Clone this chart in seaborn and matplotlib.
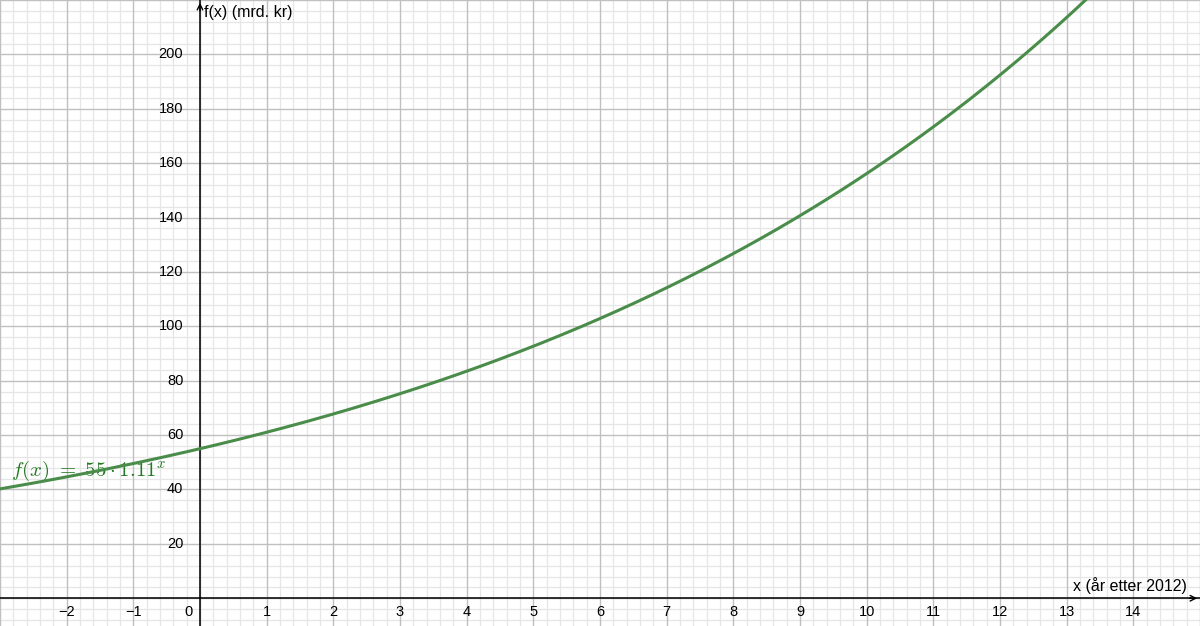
import numpy as np
import matplotlib
matplotlib.use("Agg")
import matplotlib.pyplot as plt
import seaborn as sns
import pandas as pd

# Data: f(x) = 55 * 1.11^x
a_val = 55
b_val = 1.11
x_min, x_max = -3.0, 15.0
y_min, y_max = -10.2, 220.0
x_ticks = [-2, -1, 1, 2, 3, 4, 5, 6, 7, 8, 9, 10, 11, 12, 13, 14]
y_ticks = [20, 40, 60, 80, 100, 120, 140, 160, 180, 200]
x_label = "x (år etter 2012)"
y_label = "f(x) (mrd. kr)"

xs = np.linspace(x_min, x_max, 600)
df = pd.DataFrame({"x": xs, "y": a_val * b_val ** xs})

sns.set_style("white")
plt.rcParams['font.family'] = ['Liberation Sans', 'DejaVu Sans']
plt.rcParams['mathtext.fontset'] = 'cm'

fig = plt.figure(figsize=(12, 6.26), dpi=100)
ax = fig.add_axes([0, 0, 1, 1])
ax.set_xlim(x_min, x_max)
ax.set_ylim(y_min, y_max)

# grid
for xv in np.arange(-3, 15.01, 0.2):
    if abs(xv - round(xv)) < 1e-6:
        continue
    ax.axvline(xv, color="#e6e6e6", lw=0.9, zorder=0)
for yv in np.arange(-8, 220.01, 4):
    if abs(yv % 20) < 1e-6:
        continue
    ax.axhline(yv, color="#e6e6e6", lw=0.9, zorder=0)
for xv in range(-3, 16):
    ax.axvline(xv, color="#c0c0c0", lw=1.0, zorder=1)
for yv in range(0, 221, 20):
    ax.axhline(yv, color="#c0c0c0", lw=1.0, zorder=1)

# axes
ax.axhline(0, color="black", lw=1.1, zorder=2)
ax.axvline(0, color="black", lw=1.1, zorder=2)
ax.annotate("", xy=(x_max, 0), xytext=(x_max - 0.2, 0),
            arrowprops=dict(arrowstyle="->", color="black", lw=1.0), zorder=3)
ax.annotate("", xy=(0, y_max), xytext=(0, y_max - 5),
            arrowprops=dict(arrowstyle="->", color="black", lw=1.0), zorder=3)

sns.lineplot(data=df, x="x", y="y", ax=ax, color="#4a8c4a", lw=2.2, zorder=4)

for t in x_ticks:
    ax.text(t, -2.5, "−" + str(abs(t)) if t < 0 else str(t), ha="center", va="top", fontsize=10.5, color="black")
ax.text(-0.17, -2.5, "0", ha="center", va="top", fontsize=10.5, color="black")
for t in y_ticks:
    ax.text(-0.25, t, str(t), ha="right", va="center", fontsize=10.5, color="black")

ax.text(14.8, 1.5, x_label, ha="right", va="bottom", fontsize=11.5, color="black")
ax.text(0.06, 218, y_label, ha="left", va="top", fontsize=11.5, color="black")
ax.text(-2.83, 47, r"$f(x)\ =\ 55\cdot1.11^{x}$", ha="left", va="center", fontsize=15, color="#237a23")

ax.set_axis_off()
ax.set_xlabel("")
ax.set_ylabel("")
fig.savefig("out.png", dpi=100)
